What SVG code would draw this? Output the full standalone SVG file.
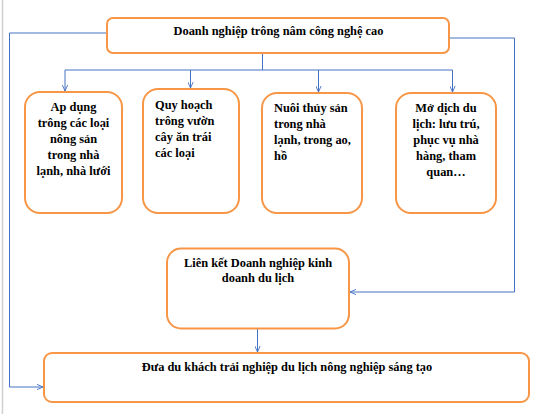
<svg xmlns="http://www.w3.org/2000/svg" width="549" height="414" viewBox="0 0 549 414">
<style>
.box{fill:#fff;stroke:#f79646;stroke-width:2}
.t{font-family:"Liberation Serif","Times New Roman",serif;font-weight:bold;font-size:12.4px;fill:#000}
.c{text-anchor:middle}
.conn{fill:none;stroke:#4472c4;stroke-width:1}
</style>
<defs>
<marker id="arr" viewBox="0 0 8 8" refX="8" refY="4" markerWidth="6" markerHeight="6" orient="auto" markerUnits="userSpaceOnUse">
<path d="M0,0.5 L8,4 L0,7.5" fill="none" stroke="#4472c4" stroke-width="1.2"/>
</marker>
</defs>
<rect x="0" y="0" width="549" height="414" fill="#fff"/>
<line x1="2.5" y1="0" x2="2.5" y2="414" stroke="#d0d0d0" stroke-width="1.5"/>
<g id="connectors">
<path class="conn" d="M262.5,53 V70"/>
<path class="conn" d="M65,70 H452.5"/>
<path class="conn" d="M65,70 V91" marker-end="url(#arr)"/>
<path class="conn" d="M190.5,70 V88" marker-end="url(#arr)"/>
<path class="conn" d="M318.5,70 V92" marker-end="url(#arr)"/>
<path class="conn" d="M452.5,70 V92" marker-end="url(#arr)"/>
<path class="conn" d="M107,33 H9.5 V387 H43" marker-end="url(#arr)"/>
<path class="conn" d="M449,38 H514.5 V292 H350" marker-end="url(#arr)"/>
<path class="conn" d="M257.5,329 V352" marker-end="url(#arr)"/>
</g>
<g id="n-top">
<rect class="box" x="107" y="18" width="342" height="35" rx="6"/>
<text class="t c" x="278.5" y="34.5">Doanh nghiệp trông nâm công nghệ cao</text>
</g>
<g id="n-apdung">
<rect class="box" x="25" y="92" width="97" height="121" rx="15"/>
<text class="t c" x="73.5" y="110.5">Ap dụng</text>
<text class="t c" x="73.5" y="126.5">trông các loại</text>
<text class="t c" x="73.5" y="142.5">nông sản</text>
<text class="t c" x="73.5" y="158.5">trong nhà</text>
<text class="t c" x="73.5" y="174.5">lạnh, nhà lưới</text>
</g>
<g id="n-quyhoach">
<rect class="box" x="143" y="89" width="96" height="124" rx="15"/>
<text class="t" x="155" y="108.5">Quy hoạch</text>
<text class="t" x="155" y="124.5">trông vườn</text>
<text class="t" x="155" y="140.5">cây ăn trái</text>
<text class="t" x="155" y="156.5">các loại</text>
</g>
<g id="n-nuoi">
<rect class="box" x="262" y="93" width="100" height="120" rx="15"/>
<text class="t" x="274" y="112">Nuôi thủy sản</text>
<text class="t" x="274" y="128">trong nhà</text>
<text class="t" x="274" y="144">lạnh, trong ao,</text>
<text class="t" x="274" y="160">hồ</text>
</g>
<g id="n-dulich">
<rect class="box" x="396" y="93" width="100" height="120" rx="15"/>
<text class="t c" x="446" y="112">Mở dịch du</text>
<text class="t c" x="446" y="128">lịch: lưu trú,</text>
<text class="t c" x="446" y="144">phục vụ nhà</text>
<text class="t c" x="446" y="160">hàng, tham</text>
<text class="t c" x="446" y="176">quan…</text>
</g>
<g id="n-lienket">
<rect class="box" x="167" y="248.5" width="182" height="80" rx="14"/>
<text class="t c" x="258" y="267">Liên kết Doanh nghiệp kinh</text>
<text class="t c" x="258" y="282">doanh du lịch</text>
</g>
<g id="n-dua">
<rect class="box" x="44" y="353" width="485" height="49" rx="8"/>
<text class="t c" x="287" y="371">Đưa du khách trải nghiệp du lịch nông nghiệp sáng tạo</text>
</g>
</svg>
